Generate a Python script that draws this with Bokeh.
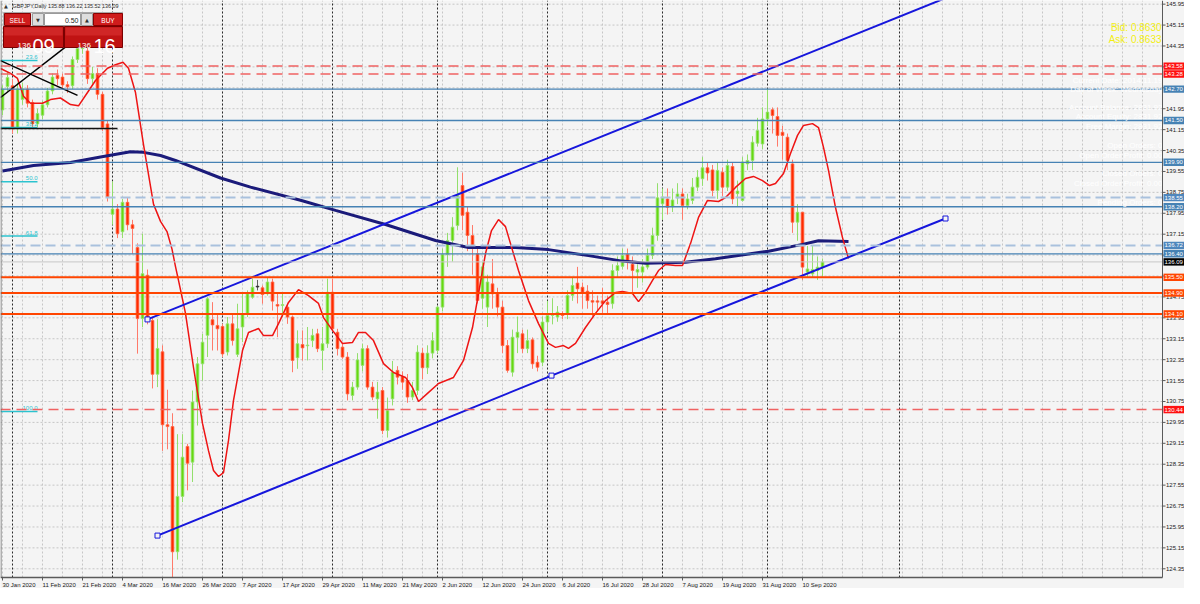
from bokeh.plotting import figure
from bokeh.models import Range1d
from bokeh.core.properties import value
from bokeh.embed import file_html
from bokeh.resources import INLINE

FONT = "Liberation Sans"

# ---------------- data ----------------
opens = [141.90, 142.80, 142.83, 141.23, 142.30, 142.70, 142.19, 141.37, 141.70, 142.10,
         142.63, 143.23, 143.16, 142.87, 142.83, 143.83, 144.25, 144.16, 143.10, 143.30,
         142.50, 141.37, 137.91, 138.11, 137.24, 138.37, 137.51, 136.64, 133.92, 135.58,
         133.85, 131.79, 132.65, 129.86, 129.79, 125.00, 127.12, 129.03, 128.43, 130.73,
         132.19, 133.28, 133.88, 133.66, 133.62, 132.64, 133.72, 132.55, 133.60, 134.10,
         134.74, 135.13, 135.10, 134.87, 135.32, 134.46, 134.42, 134.36, 133.98, 132.42,
         132.93, 132.88, 133.08, 133.34, 132.70, 132.96, 134.93, 133.40, 132.83, 132.45,
         130.98, 131.30, 132.13, 132.77, 131.30, 130.85, 131.17, 129.64, 130.85, 131.94,
         131.70, 131.55, 130.92, 131.17, 132.60, 132.04, 132.60, 132.70, 134.36, 136.37,
         136.91, 137.48, 139.01, 137.99, 137.10, 136.40, 134.70, 134.36, 135.25, 134.87,
         134.36, 132.89, 131.87, 133.20, 133.34, 132.77, 133.11, 132.25, 132.25, 133.79,
         134.04, 133.98, 134.10, 134.10, 134.81, 135.28, 135.12, 134.97, 134.61, 134.60,
         134.60, 134.55, 134.49, 135.76, 135.92, 136.37, 136.00, 135.70, 135.70, 135.89,
         136.34, 137.10, 138.31, 138.50, 138.20, 138.54, 138.69, 138.25, 138.44, 138.95,
         139.27, 139.69, 139.61, 138.82, 139.52, 138.95, 139.74, 138.70, 138.44, 139.84,
         139.97, 140.63, 140.60, 141.56, 141.91, 141.65, 141.05, 140.86, 139.84, 137.61,
         137.99, 135.70, 135.63, 135.76, 135.88]
highs = [142.85, 143.35, 143.10, 142.95, 142.95, 142.85, 142.30, 141.95, 142.25, 142.75,
         143.30, 143.45, 143.30, 143.00, 143.95, 144.50, 144.90, 144.40, 143.55, 143.50,
         142.60, 141.50, 139.17, 138.30, 138.50, 138.55, 137.70, 136.80, 137.17, 135.80,
         134.00, 133.90, 132.90, 131.20, 130.30, 129.50, 129.50, 129.13, 131.17, 132.45,
         133.34, 134.74, 134.55, 134.10, 133.72, 133.98, 134.10, 134.49, 134.93, 135.00,
         135.45, 135.40, 135.19, 135.50, 135.45, 134.87, 134.87, 134.49, 134.04, 133.47,
         133.47, 133.60, 133.53, 133.53, 133.60, 135.45, 135.45, 133.53, 132.96, 132.64,
         131.50, 132.60, 132.96, 132.90, 131.50, 131.50, 131.30, 130.90, 132.30, 132.10,
         131.90, 131.80, 131.50, 132.90, 132.80, 132.90, 133.40, 134.40, 136.60, 137.20,
         137.80, 139.71, 139.50, 138.20, 137.50, 136.60, 136.10, 135.60, 136.20, 135.10,
         134.60, 133.10, 133.50, 134.00, 133.50, 133.50, 133.20, 132.50, 134.00, 134.60,
         134.70, 134.40, 134.20, 135.00, 135.50, 135.90, 135.30, 135.20, 135.00, 134.80,
         135.10, 134.80, 136.00, 136.30, 136.60, 136.60, 136.30, 136.00, 136.20, 136.60,
         137.40, 139.10, 138.90, 138.90, 138.90, 139.10, 138.90, 138.70, 139.30, 139.60,
         140.10, 139.90, 139.80, 139.90, 139.70, 140.00, 139.90, 139.20, 140.10, 140.20,
         140.90, 141.60, 142.00, 142.71, 142.00, 142.00, 141.30, 141.00, 140.00, 138.30,
         138.00, 136.70, 136.70, 136.30, 136.22]
lows = [141.70, 142.60, 141.00, 141.00, 142.10, 142.00, 141.20, 141.25, 141.55, 142.00,
        142.50, 142.85, 142.70, 142.55, 142.70, 143.70, 144.05, 142.90, 142.90, 142.30,
        141.10, 138.40, 137.51, 137.00, 137.00, 137.30, 136.40, 132.58, 133.60, 133.70,
        131.25, 131.30, 128.86, 128.92, 124.00, 124.70, 126.90, 127.35, 127.67, 129.83,
        131.55, 132.45, 132.70, 132.70, 132.45, 132.51, 132.89, 132.45, 133.02, 133.98,
        134.68, 135.00, 134.49, 134.80, 134.23, 133.21, 133.98, 133.72, 131.87, 132.00,
        132.32, 132.32, 132.83, 132.64, 131.94, 132.80, 133.47, 132.51, 132.38, 130.79,
        130.79, 131.20, 131.90, 131.20, 130.80, 130.09, 129.50, 129.37, 130.60, 131.40,
        131.20, 130.70, 130.80, 131.00, 131.60, 131.80, 132.40, 132.60, 134.20, 135.90,
        136.10, 137.30, 137.30, 136.50, 135.60, 134.50, 134.30, 133.60, 134.30, 134.00,
        132.60, 131.85, 131.70, 132.60, 132.60, 132.60, 132.00, 131.90, 132.10, 133.40,
        133.70, 133.80, 133.90, 133.90, 134.60, 134.50, 134.30, 134.30, 134.00, 134.20,
        134.10, 134.10, 134.30, 135.50, 135.80, 135.80, 134.90, 135.10, 135.30, 135.80,
        136.20, 136.90, 137.70, 137.90, 138.00, 138.30, 137.70, 138.10, 138.30, 138.80,
        139.00, 139.20, 138.60, 138.50, 138.60, 138.80, 138.30, 138.20, 138.40, 139.60,
        139.60, 140.50, 140.40, 141.30, 141.00, 140.50, 140.00, 139.60, 137.20, 136.90,
        135.40, 135.50, 135.50, 135.40, 135.52]
closes = [142.70, 143.14, 141.23, 142.70, 142.70, 142.16, 141.37, 141.77, 142.10, 142.63,
          143.16, 143.10, 142.86, 142.79, 143.83, 144.25, 144.45, 143.10, 143.30, 142.50,
          141.23, 138.57, 138.11, 137.17, 138.37, 137.51, 137.37, 133.92, 135.64, 133.92,
          131.79, 132.78, 129.86, 129.79, 125.00, 127.12, 128.62, 128.39, 130.73, 132.19,
          133.02, 134.68, 133.68, 133.53, 132.57, 133.72, 133.08, 133.53, 134.10, 134.87,
          135.12, 135.13, 134.84, 135.32, 134.59, 134.40, 134.46, 133.98, 132.32, 132.96,
          132.80, 132.90, 133.28, 132.77, 132.96, 134.93, 133.53, 132.77, 132.45, 131.04,
          131.30, 132.34, 132.77, 131.30, 130.92, 131.11, 129.64, 130.40, 131.87, 131.68,
          131.49, 130.92, 131.17, 132.64, 132.04, 132.60, 133.08, 134.36, 136.37, 136.91,
          137.42, 138.63, 137.87, 137.10, 136.65, 134.61, 135.90, 135.32, 134.87, 134.36,
          132.89, 131.94, 133.21, 133.40, 132.77, 133.08, 132.19, 132.06, 133.79, 134.04,
          134.10, 134.17, 134.04, 134.81, 135.19, 135.06, 134.93, 134.61, 134.55, 134.55,
          134.50, 134.46, 135.76, 135.95, 136.34, 136.08, 135.76, 135.80, 135.90, 136.34,
          137.10, 138.54, 138.57, 138.18, 138.46, 138.69, 138.25, 138.50, 138.95, 139.33,
          139.69, 139.49, 138.82, 139.59, 138.95, 139.78, 138.50, 138.80, 139.91, 139.97,
          140.67, 141.12, 141.56, 141.82, 141.69, 140.93, 140.93, 139.97, 137.61, 137.99,
          135.89, 135.82, 135.80, 135.89, 136.09]

date_ticks = [0, 8, 16, 24, 32, 40, 48, 56, 64, 72, 80, 88, 96, 104, 112, 120, 128, 136, 144, 152, 160]
date_labels = ["30 Jan 2020", "11 Feb 2020", "21 Feb 2020", "4 Mar 2020", "16 Mar 2020", "26 Mar 2020",
               "7 Apr 2020", "17 Apr 2020", "29 Apr 2020", "11 May 2020", "21 May 2020", "2 Jun 2020",
               "12 Jun 2020", "24 Jun 2020", "6 Jul 2020", "16 Jul 2020", "28 Jul 2020", "7 Aug 2020",
               "19 Aug 2020", "31 Aug 2020", "10 Sep 2020"]
price_ticks = [123.55, 124.35, 125.15, 125.95, 126.75, 127.55, 128.35, 129.15, 129.95, 130.75,
               131.55, 132.35, 133.15, 133.95, 134.75, 135.55, 136.35, 137.15, 137.95, 138.75,
               139.55, 140.35, 141.15, 141.95, 142.75, 143.55, 144.35, 145.15, 145.95]
grid_bars = list(range(0, 236, 4))
month_separators = [2, 22, 44, 66, 87, 109, 132, 153, 179.4]

slow_ma_x = [0, 6.2, 13.6, 19.6, 25.6, 28.2, 31.6, 34.6, 43.6, 49.6, 59.6, 66.6, 76.6, 86.6, 93.2,
             102.6, 109.2, 117.2, 124.0, 128.6, 136.6, 142.6, 153.2, 160.0, 163.2, 169.2]
slow_ma_y = [139.57, 139.78, 139.89, 140.10, 140.30, 140.28, 140.16, 139.97, 139.30, 138.95, 138.45,
             138.06, 137.52, 136.91, 136.64, 136.64, 136.56, 136.33, 136.12, 136.04, 136.08,
             136.21, 136.50, 136.76, 136.90, 136.87]

fast_ma_x = [-0.4, 1.6, 3.0, 4.2, 5.6, 8.0, 9.6, 11.6, 13.6, 15.2,
             17.0, 18.6, 21.0, 22.6, 24.1, 25.2, 26.6, 28.2, 30.2, 31.6,
             32.9, 33.9, 34.6, 35.2, 36.6, 38.2, 40.0, 41.2, 42.2, 43.2,
             44.2, 45.2, 46.2, 48.0, 49.2, 51.2, 52.2, 54.0, 55.2, 57.2,
             59.2, 61.2, 63.2, 64.2, 66.0, 68.0, 70.0, 71.2, 72.6, 74.2,
             76.2, 78.2, 80.6, 82.0, 83.2, 85.0, 87.2, 90.2, 92.2, 94.0,
             95.2, 96.6, 97.8, 99.2, 100.6, 102.0, 103.2, 105.2, 107.2, 109.2,
             110.6, 112.2, 113.2, 114.6, 116.6, 118.6, 120.6, 122.6, 124.0, 126.0,
             127.2, 128.6, 130.0, 131.2, 132.6, 134.6, 136.0, 137.6, 139.2, 141.0,
             143.2, 144.6, 146.6, 148.6, 150.2, 152.0, 153.4, 154.6, 156.2, 157.6,
             159.0, 160.2, 162.0, 163.2, 164.2, 165.2, 166.6, 168.0, 169.2]
fast_ma_y = [143.49, 143.30, 143.11, 142.43, 142.16, 142.16, 142.30, 142.36, 142.11, 142.06,
             142.57, 143.03, 143.50, 143.63, 143.73, 143.50, 142.57, 140.58, 138.30, 137.64,
             137.25, 136.58, 135.91, 135.38, 134.12, 132.05, 129.91, 128.87, 128.11, 127.88,
             128.03, 129.26, 130.79, 132.70, 133.39, 133.54, 133.27, 133.27, 133.73, 134.54,
             135.03, 134.80, 134.50, 133.96, 133.47, 132.97, 133.01, 133.39, 133.39, 133.08,
             132.20, 131.86, 131.67, 131.28, 130.75, 131.06, 131.44, 131.67, 132.32, 133.58,
             134.88, 136.41, 137.29, 137.71, 137.44, 136.53, 135.76, 134.61, 133.73, 132.97,
             132.82, 132.89, 132.78, 132.97, 133.58, 134.12, 134.61, 134.92, 134.96, 134.88,
             134.57, 134.92, 135.38, 135.76, 135.99, 135.95, 135.95, 136.79, 137.79, 138.44,
             138.40, 138.55, 138.94, 139.28, 139.36, 139.20, 139.01, 139.09, 139.47, 140.24,
             140.93, 141.31, 141.38, 141.23, 140.47, 139.59, 138.17, 137.02, 136.22]

level_prices = [143.58, 143.28, 142.70, 141.50, 139.90, 138.55, 138.20, 136.72, 136.40,
                135.50, 134.90, 134.10, 130.44]
level_kinds = ["red", "red", "blue", "blue", "blue", "lblue", "blue", "lblue", "blue",
               "orange", "orange", "orange", "red"]
current_price = 136.09

fib_names = ["23.6", "38.2", "50.0", "61.8", "100.0"]
fib_prices = [143.79, 141.23, 139.16, 137.08, 130.37]

channel_lower_x = [31.0, 109.8, 188.6]
channel_lower_y = [125.62, 131.74, 137.75]
channel_upper_x = [29.0, 190.0]
channel_upper_y = [133.89, 146.29]

black_line1_x = [-0.4, 15.0]
black_line1_y = [143.79, 142.46]
black_line2_x = [-0.4, 13.6]
black_line2_y = [142.38, 144.46]
black_hline_x = [-0.4, 23.0]
black_hline_y = [141.19, 141.19]

header_text = "GBPJPY,Daily 135.88 136.22 135.52 136.09"
bid_text = "Bid: 0.8630"
ask_text = "Ask: 0.8633"
info_texts = ["Current Date: 2014.11.19", "Day of Week: Wednesday", "Account Balance: 2831.92",
              "Account Equity: 2831.92", "Free Margin: 2831.92", "Open Orders: 0",
              "Open Order Profit: 0.00", "Closed Orders: 0", "Closed Order Profit: 0.00",
              "Pending Orders: 0"]

# ---------------- pixel <-> data helpers (layout only) ----------------
W, H = 1184, 588
CR = 1162      # right edge of the chart area (price scale line)
CB = 577       # bottom edge of the chart area (time scale line)


def fx(px):
    return (px - 2) / 5.0


def fy(py):
    return 146.09 - py / 26.14


def inv_x(d):
    return 2 + 5.0 * d


def inv_y(v):
    return (146.09 - v) * 26.14


BG = "#f4f4f4"
p = figure(width=W, height=H, x_range=Range1d(fx(0), fx(W)), y_range=Range1d(fy(H), fy(0)),
           x_axis_location=None, y_axis_location=None,
           output_backend="svg", toolbar_location=None,
           min_border_left=0, min_border_top=0, min_border_right=0, min_border_bottom=0,
           background_fill_color=BG, border_fill_color=BG, outline_line_color=None)
p.grid.visible = False


def T(xs, ys, texts, size, color, align="left", baseline="middle", font=FONT):
    p.text(x=xs, y=ys, text=texts, text_font=value(font), text_font_size=size,
           text_color=color, text_align=align, text_baseline=baseline)


# grid (dotted) limited to the chart area
gx = [b for b in grid_bars if inv_x(b) < CR]
p.segment(x0=gx, x1=gx, y0=[fy(CB)] * len(gx), y1=[fy(0)] * len(gx),
          line_color="#c6c6c6", line_dash="2 2", line_width=1)
gy = [t for t in price_ticks if inv_y(t) < CB]
p.segment(x0=[fx(0)] * len(gy), x1=[fx(CR)] * len(gy), y0=gy, y1=gy,
          line_color="#c6c6c6", line_dash="2 2", line_width=1)
p.segment(x0=month_separators, x1=month_separators,
          y0=[fy(CB)] * len(month_separators), y1=[fy(0)] * len(month_separators),
          line_color="#2a2a2a", line_dash="2 2", line_width=1)

# candles
n = len(opens)
idx = list(range(n))
wick_col, body_col, body_line, tops, bots = [], [], [], [], []
for o, c in zip(opens, closes):
    if c > o:
        wick_col.append("#93df6c"); body_col.append("#66d90f"); body_line.append("#9be27a")
    elif c < o:
        wick_col.append("#ff7a6a"); body_col.append("#ff2a00"); body_line.append("#ff6a48")
    else:
        wick_col.append("#606060"); body_col.append("#303030"); body_line.append("#303030")
    top = max(o, c)
    bot = min(o, c)
    if top - bot < 0.03:
        top = bot + 0.03
    tops.append(top)
    bots.append(bot)

p.segment(x0=idx, y0=lows, x1=idx, y1=highs, line_color=wick_col, line_width=1)
p.vbar(x=idx, width=0.55, top=tops, bottom=bots, fill_color=body_col,
       line_color=body_line, line_width=0.8)

# moving averages
p.line(slow_ma_x, slow_ma_y, line_color="#1b1b7a", line_width=3)
p.line(fast_ma_x, fast_ma_y, line_color="#ee1414", line_width=1.5)

# channel
p.line(channel_upper_x, channel_upper_y, line_color="#1616dc", line_width=2)
p.line(channel_lower_x, channel_lower_y, line_color="#1616dc", line_width=2)
p.scatter(channel_lower_x + channel_upper_x[:1], channel_lower_y + channel_upper_y[:1],
          marker="square", size=5, fill_color=BG, line_color="#1616dc", line_width=1)

# fibonacci marks
FIB_C = "#2cc3cf"
p.segment(x0=[fx(0)] * len(fib_prices), x1=[fx(37)] * len(fib_prices), y0=fib_prices, y1=fib_prices,
          line_color=FIB_C, line_width=1.5)
T([fx(37)] * len(fib_names), [fp + 1.2 / 26.14 for fp in fib_prices], fib_names, "6px", FIB_C,
  align="right", baseline="bottom")

# black trend lines
p.line(black_line1_x, black_line1_y, line_color="#000000", line_width=1.5)
p.line(black_line2_x, black_line2_y, line_color="#000000", line_width=1.5)
p.line(black_hline_x, black_hline_y, line_color="#111111", line_width=1.5)

# horizontal levels
styles = {
    "red": dict(line_color="#f06262", line_dash="10 6", line_width=1.5),
    "blue": dict(line_color="#4682b4", line_width=1.3),
    "lblue": dict(line_color="#a9c1dd", line_dash="10 5", line_width=2),
    "orange": dict(line_color="#ff4500", line_width=2),
}
tag_colors = {"red": "#ff1010", "blue": "#4682b4", "lblue": "#4f87bd", "orange": "#ff4500"}
p.segment(x0=[fx(0)], x1=[fx(CR)], y0=[current_price], y1=[current_price],
          line_color="#c8c8c8", line_width=1)
for kind, st in styles.items():
    ys = [lp for lp, k in zip(level_prices, level_kinds) if k == kind]
    p.segment(x0=[fx(0)] * len(ys), x1=[fx(CR)] * len(ys), y0=ys, y1=ys, **st)

# ---------------- trade panel (top-left) ----------------
def box(x0, y0, x1, y1, fill, line, lw=1):
    p.quad(left=[fx(x0)], right=[fx(x1)], top=[fy(y0)], bottom=[fy(y1)],
           fill_color=fill, line_color=line, line_width=lw)


def txt(x, y, s, size, color, align="center", baseline="middle", font=FONT):
    T([fx(x)], [fy(y)], [s], size, color, align, baseline, font)


box(3, 12, 122, 26, "#e4e4e4", "#a8a8a8")
box(4, 13, 30, 25, "#cf1c1c", "#8a0000")
txt(17, 19.5, "SELL", "6.5px", "#ffffff")
box(32, 13, 43, 25, "#dedede", "#9a9a9a")
txt(37.5, 19.5, "▼", "5px", "#333333", font="DejaVu Sans")
box(44, 13, 80, 25, "#ffffff", "#9a9a9a")
txt(78, 19.5, "0.50", "7px", "#222222", align="right")
box(81, 13, 92, 25, "#dedede", "#9a9a9a")
txt(86.5, 19.5, "▲", "5px", "#333333", font="DejaVu Sans")
box(93, 13, 122, 25, "#cf1c1c", "#8a0000")
txt(107.5, 19.5, "BUY", "6.5px", "#ffffff")

for (x0, x1, small_x, big_x, big) in [(3, 63, 17, 32, "09"), (64, 122, 77, 93, "16")]:
    box(x0, 26, x1, 47, "#c01313", "#7a0000")
    box(x0 + 1, 27, x1 - 1, 35, "#d02626", None, 0)
    txt(small_x, 45, "136", "8px", "#ffffff", align="left", baseline="alphabetic")
    txt(big_x, 45.5, big, "20px", "#ffffff", align="left", baseline="alphabetic")

txt(5.5, 5, "▲", "5px", "#333333", font="DejaVu Sans")
txt(12, 5, header_text, "5.4px", "#2a2a2a", align="left")

# Bid / Ask and the faint white account overlay
T([fx(1161)] * 2, [fy(26.7), fy(39.3)], [bid_text, ask_text], "10px", "#f2ee12", align="right")
info_y = [80, 89, 107, 116, 126, 145, 155, 173, 183, 202]
T([fx(1162)] * len(info_texts), [fy(v) for v in info_y], info_texts, "8px", "#ffffff", align="right")

# ---------------- frame borders and price scale (right) ----------------
p.segment(x0=[fx(0.5)], x1=[fx(0.5)], y0=[fy(0)], y1=[fy(CB)], line_color="#6a6a6a", line_width=1)
p.segment(x0=[fx(CR)], x1=[fx(CR)], y0=[fy(0)], y1=[fy(CB)], line_color="#5a5a5a", line_width=1)
vt = [t for t in price_ticks if inv_y(t) < CB]
p.segment(x0=[fx(CR)] * len(vt), x1=[fx(CR + 3)] * len(vt), y0=vt, y1=vt,
          line_color="#5a5a5a", line_width=1)
T([fx(CR + 3.5)] * len(vt), vt, ["%.2f" % t for t in vt], "6px", "#202020")

# price tags over the scale
tag_prices = level_prices + [current_price]
tag_fill = [tag_colors[k] for k in level_kinds] + ["#000000"]
hh = 3.7 / 26.14
p.quad(left=[fx(CR + 1)] * len(tag_prices), right=[fx(CR + 21.5)] * len(tag_prices),
       top=[tp + hh for tp in tag_prices], bottom=[tp - hh for tp in tag_prices],
       fill_color=tag_fill, line_color=None)
T([fx(CR + 2)] * len(tag_prices), tag_prices, ["%.2f" % tp for tp in tag_prices], "6px", "#ffffff")

# ---------------- time scale (bottom) ----------------
p.segment(x0=[fx(0)], x1=[fx(CR)], y0=[fy(CB)], y1=[fy(CB)], line_color="#5a5a5a", line_width=1.5)
p.segment(x0=date_ticks, x1=date_ticks, y0=[fy(CB)] * len(date_ticks),
          y1=[fy(CB + 3)] * len(date_ticks), line_color="#5a5a5a", line_width=1)
T(date_ticks, [fy(CB + 7.5)] * len(date_ticks), date_labels, "6px", "#202020")

open("out.html", "w").write(file_html(p, INLINE))
